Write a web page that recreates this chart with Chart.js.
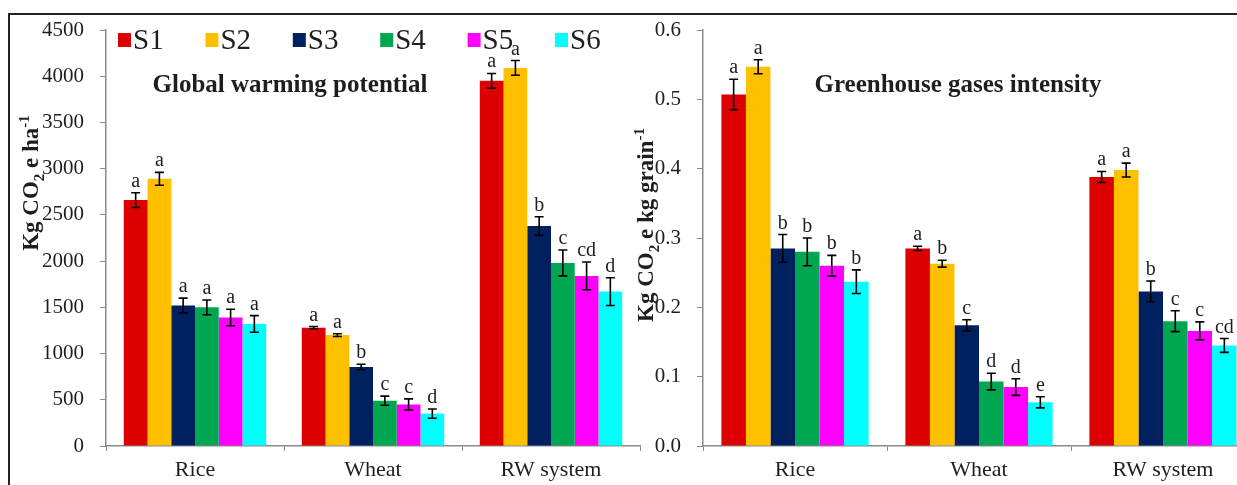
<!DOCTYPE html>
<html>
<head>
<meta charset="utf-8">
<script src="https://cdn.jsdelivr.net/npm/chart.js@4.4.1/dist/chart.umd.min.js"></script>
<style>
  html, body { margin: 0; padding: 0; background: #fff; }
  body { width: 1237px; height: 485px; overflow: hidden; position: relative; }
  canvas { position: absolute; top: 0; }
  #gwp { left: 0; }
  #ghgi { left: 620px; }
  .frame { position: absolute; left: 8px; top: 13px; width: 1300px; height: 500px;
           border-top: 2px solid #222; border-left: 2px solid #222; }
</style>
</head>
<body>
<div class="frame"></div>
<canvas id="gwp" width="680" height="485"></canvas>
<canvas id="ghgi" width="660" height="485"></canvas>
<script>
// Data
const categories = ['Rice', 'Wheat', 'RW system'];
const seriesNames = ['S1', 'S2', 'S3', 'S4', 'S5', 'S6'];

// global warming potential, kg CO2 e/ha (one row per series: Rice, Wheat, RW system)
const gwpMeans = [
	[2660, 1280, 3950],
	[2890, 1200, 4090],
	[1520, 855, 2380],
	[1500, 490, 1980],
	[1390, 450, 1840],
	[1320, 350, 1670]
];
const gwpErrors = [
	[80, 12, 80],
	[70, 15, 80],
	[80, 30, 100],
	[80, 50, 140],
	[90, 60, 150],
	[90, 50, 150]
];
const gwpLetters = [
	['a', 'a', 'a'],
	['a', 'a', 'a'],
	['a', 'b', 'b'],
	['a', 'c', 'c'],
	['a', 'c', 'cd'],
	['a', 'd', 'd']
];
const gwpTicks = [0, 500, 1000, 1500, 2000, 2500, 3000, 3500, 4000, 4500];

// greenhouse gases intensity, kg CO2 e/kg grain
const ghgiMeans = [
	[0.507, 0.285, 0.388],
	[0.547, 0.263, 0.398],
	[0.285, 0.174, 0.223],
	[0.280, 0.093, 0.180],
	[0.260, 0.085, 0.166],
	[0.237, 0.063, 0.145]
];
const ghgiErrors = [
	[0.022, 0.003, 0.008],
	[0.010, 0.005, 0.010],
	[0.020, 0.008, 0.015],
	[0.020, 0.012, 0.015],
	[0.015, 0.012, 0.013],
	[0.017, 0.008, 0.010]
];
const ghgiLetters = [
	['a', 'a', 'a'],
	['a', 'b', 'a'],
	['b', 'c', 'b'],
	['b', 'd', 'c'],
	['b', 'd', 'c'],
	['b', 'e', 'cd']
];
const ghgiTicks = [0, 0.1, 0.2, 0.3, 0.4, 0.5, 0.6];

// Style
const SERIES_COLORS = ['#dc0000', '#ffc000', '#002060', '#00a650', '#ff00ff', '#00ffff'];
const SERIF = '"Liberation Serif", "Times New Roman", serif';
const TEXT_COLOR = '#1e1e1e';
const AXIS_COLOR = '#8a8a8a';

// error bars + significance letters
const errorBarPlugin = {
	id: 'errorBars',
	afterDatasetsDraw(chart, args, opts) {
		const { ctx } = chart;
		const y = chart.scales.y;
		ctx.save();
		chart.data.datasets.forEach((ds, i) => {
			const meta = chart.getDatasetMeta(i);
			meta.data.forEach((bar, j) => {
				const v = ds.data[j];
				const e = opts.errors[i][j];
				const top = y.getPixelForValue(v + e);
				const bot = y.getPixelForValue(v - e);
				ctx.strokeStyle = '#000';
				ctx.lineWidth = 1.6;
				ctx.beginPath();
				ctx.moveTo(bar.x, top);
				ctx.lineTo(bar.x, bot);
				ctx.moveTo(bar.x - 4.5, top);
				ctx.lineTo(bar.x + 4.5, top);
				ctx.moveTo(bar.x - 4.5, bot);
				ctx.lineTo(bar.x + 4.5, bot);
				ctx.stroke();
				ctx.fillStyle = TEXT_COLOR;
				ctx.font = '20px ' + SERIF;
				ctx.textAlign = 'center';
				ctx.textBaseline = 'alphabetic';
				ctx.fillText(opts.letters[i][j], bar.x, top - 6);
			});
		});
		ctx.restore();
	}
};

// panel title, rotated y caption and (left panel only) the key
const decorPlugin = {
	id: 'decor',
	afterDraw(chart, args, opts) {
		const { ctx } = chart;
		ctx.save();
		ctx.fillStyle = TEXT_COLOR;
		ctx.font = 'bold 25px ' + SERIF;
		ctx.textAlign = 'center';
		ctx.textBaseline = 'middle';
		ctx.fillText(opts.title, opts.titleX, opts.titleY);

		// y caption with sub/superscripts
		const segs = opts.caption;
		const big = 'bold 23px ' + SERIF, small = 'bold 15px ' + SERIF;
		let total = 0;
		segs.forEach(s => { ctx.font = s.sub || s.sup ? small : big; total += ctx.measureText(s.t).width; });
		ctx.translate(opts.captionX, opts.captionY);
		ctx.rotate(-Math.PI / 2);
		ctx.textAlign = 'left';
		ctx.textBaseline = 'alphabetic';
		let cx = -total / 2;
		segs.forEach(s => {
			ctx.font = s.sub || s.sup ? small : big;
			const dy = s.sub ? 6 : s.sup ? -9 : 0;
			ctx.fillText(s.t, cx, 8 + dy);
			cx += ctx.measureText(s.t).width;
		});
		ctx.restore();

		if (opts.key) {
			ctx.save();
			ctx.font = '29px ' + SERIF;
			ctx.textBaseline = 'middle';
			chart.data.datasets.forEach((ds, i) => {
				const x = 118 + i * 87.4;
				ctx.fillStyle = ds.backgroundColor;
				ctx.fillRect(x, 33, 13, 14);
				ctx.fillStyle = TEXT_COLOR;
				ctx.fillText(ds.label, x + 15, 41);
			});
			ctx.restore();
		}
	}
};

function buildChart(id, means, errors, letters, ticks, fmt, yWidth, padRight, decor) {
	const datasets = seriesNames.map((name, i) => ({
		label: name,
		data: means[i],
		backgroundColor: SERIES_COLORS[i],
		borderWidth: 0,
		barPercentage: 1.0,
		categoryPercentage: 0.8
	}));
	return new Chart(document.getElementById(id), {
		type: 'bar',
		data: { labels: categories, datasets },
		options: {
			responsive: false,
			animation: false,
			layout: { padding: { top: 30, right: padRight, bottom: 0, left: 0 } },
			plugins: {
				legend: { display: false },
				tooltip: { enabled: false },
				errorBars: { errors, letters },
				decor
			},
			scales: {
				x: {
					afterFit: s => { s.height = 39; },
					grid: { offset: true, drawOnChartArea: false, tickLength: 5, color: AXIS_COLOR },
					border: { color: AXIS_COLOR, width: 1.5 },
					ticks: { color: TEXT_COLOR, font: { family: SERIF, size: 22 }, padding: 6 }
				},
				y: {
					min: ticks[0],
					max: ticks[ticks.length - 1],
					afterFit: s => { s.width = yWidth; },
					afterBuildTicks: s => { s.ticks = ticks.map(v => ({ value: v })); },
					grid: { drawOnChartArea: false, tickLength: 6, color: AXIS_COLOR },
					border: { color: AXIS_COLOR, width: 1.5 },
					ticks: { color: TEXT_COLOR, font: { family: SERIF, size: 21 }, padding: 16, callback: fmt }
				}
			}
		},
		plugins: [errorBarPlugin, decorPlugin]
	});
}

buildChart('gwp', gwpMeans, gwpErrors, gwpLetters, gwpTicks, v => String(v), 106, 40, {
	title: 'Global warming potential', titleX: 290, titleY: 86,
	caption: [{ t: 'Kg CO' }, { t: '2', sub: true }, { t: ' e ha' }, { t: '-1', sup: true }],
	captionX: 30, captionY: 183,
	key: true
});

buildChart('ghgi', ghgiMeans, ghgiErrors, ghgiLetters, ghgiTicks, v => v.toFixed(1), 83, 25, {
	title: 'Greenhouse gases intensity', titleX: 338, titleY: 86,
	caption: [{ t: 'Kg CO' }, { t: '2', sub: true }, { t: ' e kg grain' }, { t: '-1', sup: true }],
	captionX: 25, captionY: 225,
	key: false
});
</script>
</body>
</html>
